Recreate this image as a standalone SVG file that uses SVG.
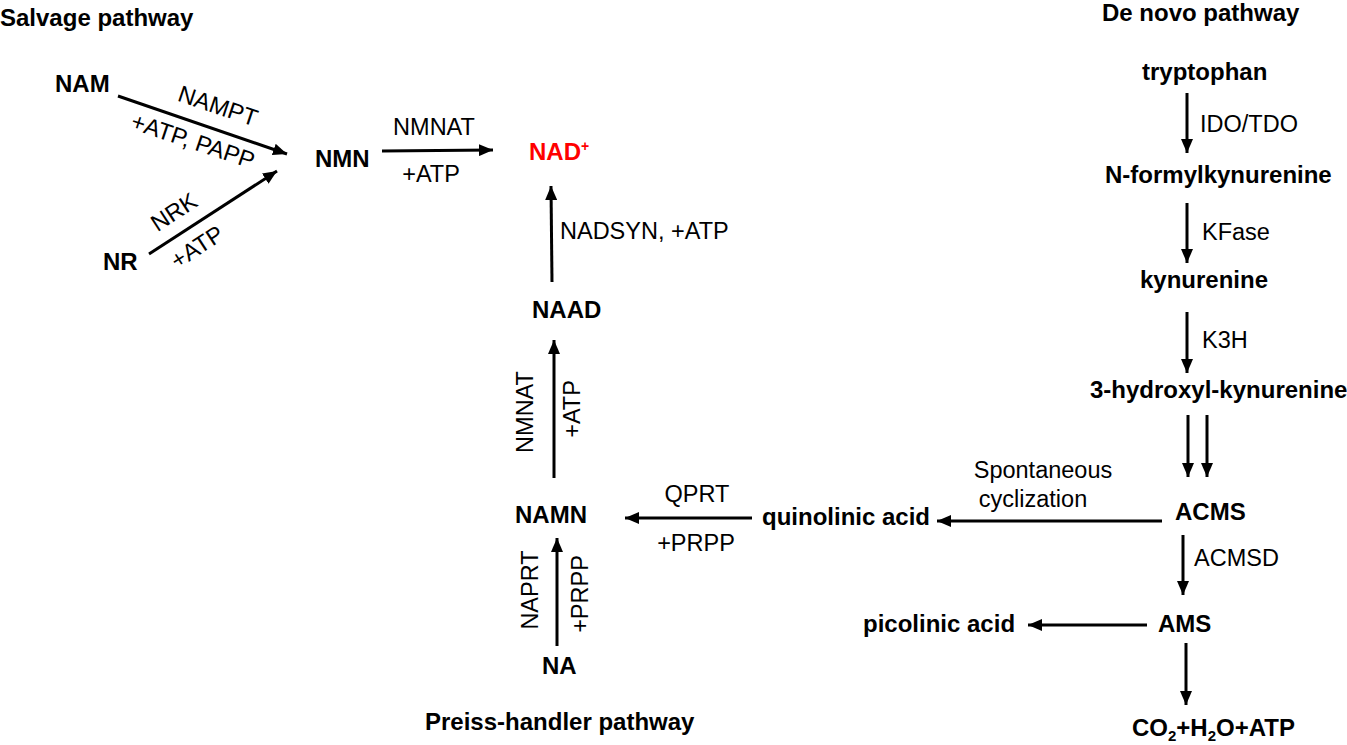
<svg xmlns="http://www.w3.org/2000/svg" width="1347" height="745" viewBox="0 0 1347 745">
<defs>
<style>
.b{font-family:"Liberation Sans",Arial,sans-serif;font-weight:bold;font-size:24px;fill:#000}
.r{font-family:"Liberation Sans",Arial,sans-serif;font-size:23.5px;fill:#000}
.c{text-anchor:middle}
.ln{stroke:#000;stroke-width:3;fill:none;marker-end:url(#ah)}
</style>
<marker id="ah" markerUnits="userSpaceOnUse" markerWidth="14" markerHeight="12" refX="14" refY="6" orient="auto">
<path d="M0,0 L14,6 L0,12 z" fill="#000"/>
</marker>
</defs>
<rect width="1347" height="745" fill="#fff"/>
<g id="titles">
<text class="b" x="0" y="26">Salvage pathway</text>
<text class="b" x="1102" y="21">De novo pathway</text>
<text class="b" x="425" y="730">Preiss-handler pathway</text>
</g>
<g id="connectors">
<line class="ln" x1="118" y1="96" x2="287" y2="154"/>
<line class="ln" x1="149" y1="254" x2="277" y2="171"/>
<line class="ln" x1="382" y1="151" x2="493" y2="150"/>
<line class="ln" x1="552" y1="282" x2="551" y2="186"/>
<line class="ln" x1="554" y1="478" x2="554" y2="340"/>
<line class="ln" x1="557" y1="646" x2="557" y2="538"/>
<line class="ln" x1="752" y1="518" x2="625" y2="518"/>
<line class="ln" x1="1162" y1="521" x2="937" y2="521"/>
<line class="ln" x1="1187" y1="93" x2="1187" y2="153"/>
<line class="ln" x1="1187" y1="203" x2="1187" y2="263"/>
<line class="ln" x1="1187" y1="312" x2="1187" y2="373"/>
<line class="ln" x1="1188" y1="415" x2="1188" y2="477"/>
<line class="ln" x1="1207" y1="415" x2="1207" y2="477"/>
<line class="ln" x1="1183" y1="535" x2="1183" y2="595"/>
<line class="ln" x1="1147" y1="625" x2="1028" y2="625"/>
<line class="ln" x1="1186" y1="643" x2="1186" y2="705"/>
</g>
<g id="edge-labels">
<text class="r c" transform="translate(218,106) rotate(18.6)" y="8">NAMPT</text>
<text class="r c" transform="translate(193,141) rotate(18.6)" y="8">+ATP, PAPP</text>
<text class="r c" transform="translate(174,212) rotate(-33)" y="8">NRK</text>
<text class="r c" transform="translate(197,247) rotate(-33)" y="8">+ATP</text>
<text class="r c" x="434" y="135">NMNAT</text>
<text class="r c" x="431" y="182">+ATP</text>
<text class="r" x="560" y="239">NADSYN, +ATP</text>
<text class="r c" transform="translate(525,412) rotate(-90)" y="8">NMNAT</text>
<text class="r c" transform="translate(572,409) rotate(-90)" y="8">+ATP</text>
<text class="r c" transform="translate(530,590) rotate(-90)" y="8">NAPRT</text>
<text class="r c" transform="translate(580,594) rotate(-90)" y="8">+PRPP</text>
<text class="r c" x="697" y="502">QPRT</text>
<text class="r c" x="696" y="551">+PRPP</text>
<text class="r c" x="1043" y="478">Spontaneous</text>
<text class="r c" x="1033" y="507">cyclization</text>
<text class="r" x="1200" y="132">IDO/TDO</text>
<text class="r" x="1202" y="240">KFase</text>
<text class="r" x="1202" y="348">K3H</text>
<text class="r" x="1194" y="566">ACMSD</text>
</g>
<g id="NAM"><text class="b" x="55" y="92">NAM</text></g>
<g id="NR"><text class="b" x="103" y="270">NR</text></g>
<g id="NMN"><text class="b" x="315" y="167">NMN</text></g>
<g id="NAD"><text class="b" x="529" y="160" style="fill:#ff0000">NAD<tspan font-size="14" dy="-9">+</tspan></text></g>
<g id="NAAD"><text class="b" x="532" y="318">NAAD</text></g>
<g id="NAMN"><text class="b" x="515" y="523">NAMN</text></g>
<g id="NA"><text class="b" x="542" y="674">NA</text></g>
<g id="quinolinic"><text class="b" x="762" y="525">quinolinic acid</text></g>
<g id="picolinic"><text class="b" x="863" y="632">picolinic acid</text></g>
<g id="tryptophan"><text class="b" x="1142" y="80">tryptophan</text></g>
<g id="NFK"><text class="b" x="1105" y="183">N-formylkynurenine</text></g>
<g id="kynurenine"><text class="b" x="1140" y="288">kynurenine</text></g>
<g id="HK"><text class="b" x="1090" y="398">3-hydroxyl-kynurenine</text></g>
<g id="ACMS"><text class="b" x="1175" y="520">ACMS</text></g>
<g id="AMS"><text class="b" x="1158" y="632">AMS</text></g>
<g id="CO2"><text class="b" x="1132" y="736">CO<tspan font-size="15" dy="5">2</tspan><tspan dy="-5">+H</tspan><tspan font-size="15" dy="5">2</tspan><tspan dy="-5">O+ATP</tspan></text></g>
</svg>
